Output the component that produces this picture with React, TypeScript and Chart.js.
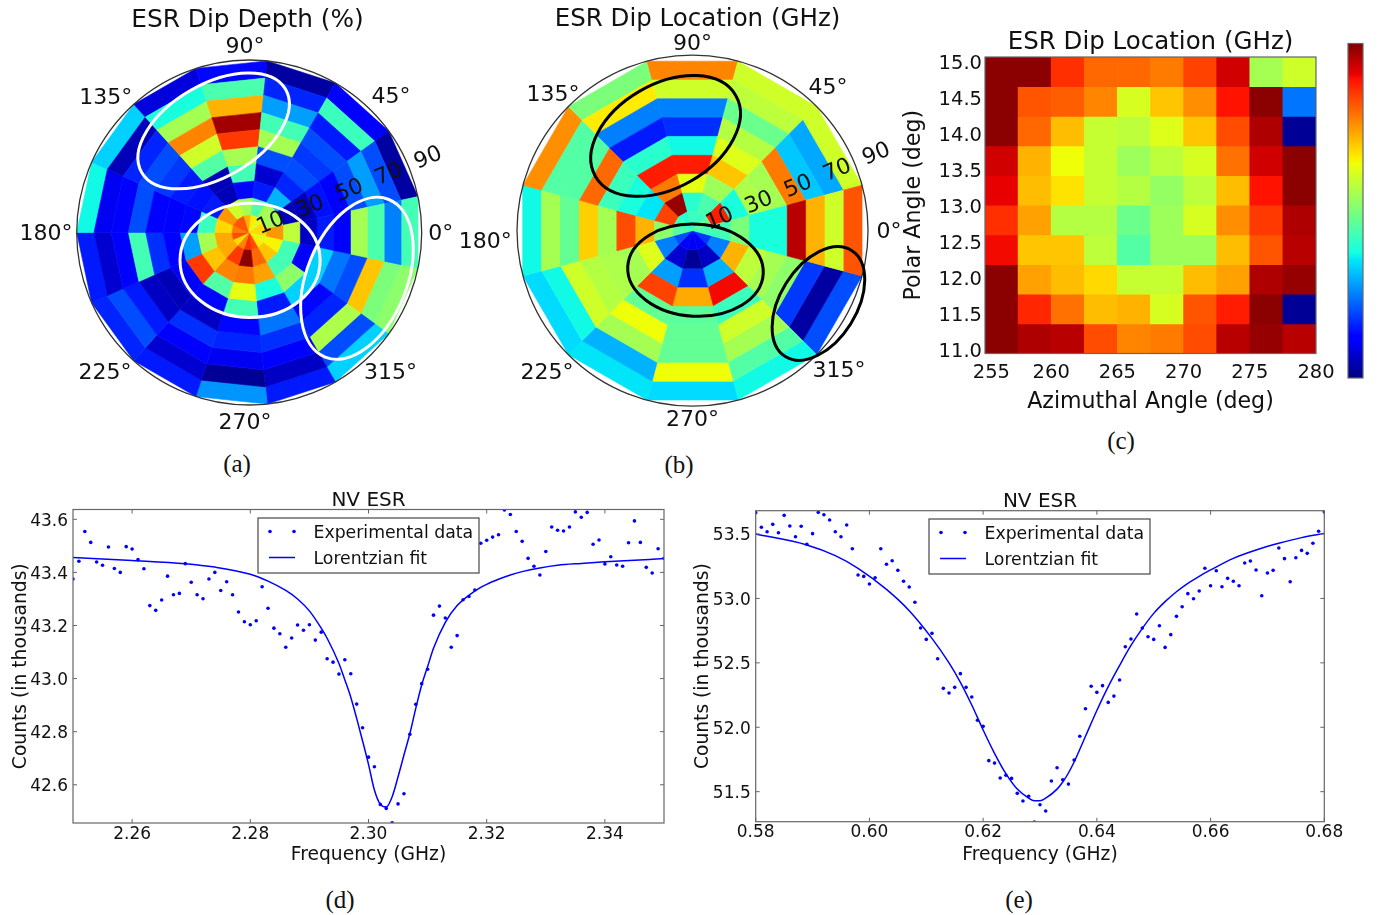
import React, { useEffect, useRef } from "react";
import { Chart, registerables } from "chart.js";

Chart.register(...registerables);

// ---------- panel (a): ESR dip depth, one row per azimuth sector, inner ring first
const depthSectorCenters = [0, 24, 48, 72, 96, 120, 144, 168, 192, 216, 240, 264, 288, 312, 336];
const depthRingEdges = [0, 8.1, 16.2, 24.3, 32.4, 40.5, 48.6, 56.7, 64.8, 72.9, 81];
const depthCells = [
  [0.68, 0.75, 0.58, 0.06, 0.15, 0.11, 0.55, 0.44, 0.25, 0.43],
  [0.68, 0.55, 0.05, 0.05, 0.14, 0.12, 0.2, 0.28, 0.2, 0.03],
  [0.62, 0.55, 0.3, 0.16, 0.2, 0.18, 0.2, 0.15, 0.42, 0.11],
  [0.66, 0.45, 0.15, 0.07, 0.2, 0.55, 0.43, 0.28, 0.16, 0.03],
  [0.72, 0.55, 0.13, 0.43, 0.55, 0.85, 0.97, 0.72, 0.44, 0.13],
  [0.82, 0.6, 0.05, 0.05, 0.45, 0.6, 0.77, 0.55, 0.38, 0.08],
  [0.82, 0.75, 0.15, 0.14, 0.15, 0.18, 0.2, 0.16, 0.05, 0.33],
  [0.78, 0.68, 0.42, 0.13, 0.12, 0.12, 0.2, 0.11, 0.1, 0.37],
  [0.83, 0.73, 0.55, 0.28, 0.12, 0.17, 0.43, 0.11, 0.07, 0.15],
  [0.68, 0.73, 0.7, 0.85, 0.11, 0.05, 0.06, 0.15, 0.2, 0.16],
  [0.77, 0.85, 0.77, 0.45, 0.13, 0.06, 0.17, 0.11, 0.07, 0.15],
  [0.86, 0.99, 0.78, 0.63, 0.43, 0.13, 0.16, 0.1, 0.02, 0.27],
  [0.83, 0.8, 0.74, 0.38, 0.15, 0.24, 0.17, 0.11, 0.06, 0.15],
  [0.66, 0.7, 0.43, 0.52, 0.33, 0.13, 0.16, 0.56, 0.2, 0.33],
  [0.62, 0.65, 0.43, 0.11, 0.33, 0.24, 0.2, 0.7, 0.5, 0.52],
];
const depthEllipses = [
  [-16.7, 47.7, 39, 21.9, 30],
  [0.4, -13.1, 32.9, 26.8, 0],
  [50.6, -21.5, 39.9, 23.5, 68],
];
const depthAngleTexts = ["0°", "45°", "90°", "135°", "180°", "225°", "270°", "315°"];
const depthAngleThetas = [0, 43.9, 91.3, 136.6, 180, 224, 268.7, 315.4];
const depthAngleRadii = [90, 92.4, 87.6, 92.7, 95.4, 94.2, 89, 93.2];

// ---------- panel (b): ESR dip location
const locationSectorCenters = [0, 30, 60, 90, 120, 150, 180, 210, 240, 270, 300, 330];
const locationRingEdges = [0, 9.2, 18.4, 27.6, 36.8, 46, 55.2, 64.4, 73.6, 82.8];
const locationCells = [
  [0.43, 0.43, 0.5, 0.38, 0.38, 0.95, 0.72, 0.6, 0.82],
  [0.47, 0.88, 0.38, 0.56, 0.55, 0.78, 0.32, 0.29, 0.6],
  [0.42, 0.44, 0.54, 0.7, 0.62, 0.57, 0.48, 0.58, 0.6],
  [0.42, 0.4, 0.63, 0.88, 0.37, 0.17, 0.25, 0.6, 0.77],
  [0.4, 0.98, 0.78, 0.88, 0.4, 0.15, 0.25, 0.66, 0.5],
  [0.42, 0.84, 0.35, 0.38, 0.42, 0.8, 0.45, 0.45, 0.76],
  [0.45, 0.52, 0.72, 0.83, 0.55, 0.69, 0.47, 0.55, 0.37],
  [0.2, 0.25, 0.62, 0.55, 0.56, 0.57, 0.6, 0.37, 0.34],
  [0.12, 0.07, 0.28, 0.84, 0.47, 0.64, 0.55, 0.3, 0.35],
  [0.1, 0.02, 0.17, 0.73, 0.46, 0.47, 0.47, 0.64, 0.34],
  [0.12, 0.06, 0.3, 0.9, 0.42, 0.6, 0.55, 0.45, 0.37],
  [0.18, 0.25, 0.72, 0.58, 0.55, 0.52, 0.18, 0.03, 0.2],
];
const locationEllipses = [
  [-12.7, 44.7, 38.2, 24.4, 30],
  [1.4, -18.7, 32, 21.7, -3],
  [59.4, -34.4, 29.5, 18, 58],
];
const locationAngleTexts = ["0°", "45°", "90°", "135°", "180°", "225°", "270°", "315°"];
const locationAngleThetas = [0, 46.7, 90, 135.6, 182.8, 224.2, 270, 316.4];
const locationAngleRadii = [92.7, 93.2, 88.5, 92.1, 97.9, 95.7, 88.8, 95.4];

const radialTicks = [10, 30, 50, 70, 90];

// ---------- panel (c): heat map, top row first
const azimuthTicks = [255.48, 260, 265, 270, 275, 280];
const polarTicks = [11, 11.5, 12, 12.5, 13, 13.5, 14, 14.5, 15];
const azimuthEdges = [255, 257.5, 260, 262.5, 265, 267.5, 270, 272.5, 275, 277.5, 280];
const polarEdges = [15.065, 14.654, 14.242, 13.831, 13.419, 13.008, 12.597, 12.185, 11.774, 11.362, 10.951];
const heatRow1 = [0.99, 0.99, 0.86, 0.8, 0.8, 0.78, 0.84, 0.93, 0.55, 0.6];
const heatRow2 = [0.99, 0.82, 0.81, 0.77, 0.61, 0.7, 0.76, 0.89, 0.99, 0.24];
const heatRow3 = [0.99, 0.8, 0.71, 0.59, 0.58, 0.62, 0.7, 0.83, 0.96, 0.02];
const heatRow4 = [0.93, 0.72, 0.64, 0.59, 0.54, 0.58, 0.61, 0.79, 0.93, 0.99];
const heatRow5 = [0.91, 0.71, 0.67, 0.59, 0.57, 0.53, 0.58, 0.71, 0.89, 0.99];
const heatRow6 = [0.86, 0.74, 0.57, 0.57, 0.48, 0.54, 0.61, 0.76, 0.85, 0.96];
const heatRow7 = [0.9, 0.7, 0.7, 0.58, 0.45, 0.54, 0.54, 0.71, 0.82, 0.95];
const heatRow8 = [0.99, 0.74, 0.71, 0.68, 0.59, 0.59, 0.71, 0.74, 0.96, 0.98];
const heatRow9 = [0.99, 0.87, 0.79, 0.71, 0.72, 0.61, 0.82, 0.88, 0.99, 0.02];
const heatRow10 = [0.99, 0.96, 0.95, 0.83, 0.77, 0.78, 0.83, 0.95, 0.98, 0.95];
const heatRows = [heatRow1, heatRow2, heatRow3, heatRow4, heatRow5, heatRow6, heatRow7, heatRow8, heatRow9, heatRow10];

// ---------- panel (d)
const freqD = [2.25, 2.251, 2.252, 2.253, 2.254, 2.255, 2.256, 2.257, 2.258, 2.259, 2.26, 2.261, 2.262, 2.263, 2.264, 2.265, 2.266, 2.267, 2.268, 2.269, 2.27, 2.271, 2.272, 2.273, 2.274, 2.275, 2.276, 2.277, 2.278, 2.279, 2.28, 2.281, 2.282, 2.283, 2.284, 2.285, 2.286, 2.287, 2.288, 2.289, 2.29, 2.291, 2.292, 2.293, 2.294, 2.295, 2.296, 2.297, 2.298, 2.299, 2.3, 2.301, 2.302, 2.303, 2.304, 2.305, 2.306, 2.307, 2.308, 2.309, 2.31, 2.311, 2.312, 2.313, 2.314, 2.315, 2.316, 2.317, 2.318, 2.319, 2.32, 2.321, 2.322, 2.323, 2.324, 2.325, 2.326, 2.327, 2.328, 2.329, 2.33, 2.331, 2.332, 2.333, 2.334, 2.335, 2.336, 2.337, 2.338, 2.339, 2.34, 2.341, 2.342, 2.343, 2.344, 2.345, 2.346, 2.347, 2.348, 2.349, 2.35];
const countsD = [43.375, 43.442, 43.554, 43.513, 43.439, 43.427, 43.496, 43.415, 43.4, 43.497, 43.488, 43.448, 43.414, 43.275, 43.257, 43.296, 43.386, 43.316, 43.321, 43.433, 43.363, 43.316, 43.301, 43.375, 43.4, 43.332, 43.365, 43.316, 43.251, 43.214, 43.203, 43.218, 43.346, 43.265, 43.19, 43.169, 43.118, 43.153, 43.202, 43.182, 43.203, 43.145, 43.175, 43.075, 43.062, 43.017, 43.071, 43.018, 42.904, 42.815, 42.704, 42.668, 42.526, 42.511, 42.457, 42.528, 42.566, 42.79, 42.903, 42.981, 43.035, 43.239, 43.273, 43.228, 43.118, 43.162, 43.297, 43.309, 43.334, 43.51, 43.521, 43.533, 43.542, 43.635, 43.618, 43.554, 43.517, 43.453, 43.423, 43.39, 43.479, 43.571, 43.559, 43.556, 43.571, 43.628, 43.608, 43.626, 43.506, 43.522, 43.432, 43.459, 43.428, 43.423, 43.512, 43.594, 43.513, 43.419, 43.398, 43.489, 43.453];
const fitFreqD = [2.25, 2.26, 2.269, 2.274, 2.28, 2.283, 2.286, 2.288, 2.29, 2.292, 2.293, 2.295, 2.296, 2.297, 2.298, 2.299, 2.3, 2.301, 2.302, 2.303, 2.304, 2.305, 2.306, 2.307, 2.308, 2.309, 2.31, 2.311, 2.313, 2.315, 2.318, 2.32, 2.322, 2.324, 2.326, 2.329, 2.332, 2.336, 2.34, 2.345, 2.35];
const fitCountsD = [43.456, 43.445, 43.433, 43.42, 43.393, 43.367, 43.332, 43.3, 43.255, 43.19, 43.152, 43.057, 42.995, 42.93, 42.85, 42.765, 42.677, 42.58, 42.526, 42.516, 42.555, 42.63, 42.712, 42.793, 42.888, 42.976, 43.045, 43.114, 43.212, 43.275, 43.33, 43.355, 43.374, 43.39, 43.403, 43.417, 43.427, 43.434, 43.44, 43.446, 43.452];
const xTicksD = [2.26, 2.28, 2.3, 2.32, 2.34];
const yTicksD = [42.6, 42.8, 43.0, 43.2, 43.4, 43.6];

// ---------- panel (e)
const freqE = [0.58, 0.581, 0.582, 0.583, 0.584, 0.585, 0.586, 0.587, 0.588, 0.589, 0.59, 0.591, 0.592, 0.593, 0.594, 0.595, 0.596, 0.597, 0.598, 0.599, 0.6, 0.601, 0.602, 0.603, 0.604, 0.605, 0.606, 0.607, 0.608, 0.609, 0.61, 0.611, 0.612, 0.613, 0.614, 0.615, 0.616, 0.617, 0.618, 0.619, 0.62, 0.621, 0.622, 0.623, 0.624, 0.625, 0.626, 0.627, 0.628, 0.629, 0.63, 0.631, 0.632, 0.633, 0.634, 0.635, 0.636, 0.637, 0.638, 0.639, 0.64, 0.641, 0.642, 0.643, 0.644, 0.645, 0.646, 0.647, 0.648, 0.649, 0.65, 0.651, 0.652, 0.653, 0.654, 0.655, 0.656, 0.657, 0.658, 0.659, 0.66, 0.661, 0.662, 0.663, 0.664, 0.665, 0.666, 0.667, 0.668, 0.669, 0.67, 0.671, 0.672, 0.673, 0.674, 0.675, 0.676, 0.677, 0.678, 0.679, 0.68];
const countsE = [53.666, 53.552, 53.518, 53.575, 53.51, 53.645, 53.562, 53.479, 53.56, 53.42, 53.503, 53.668, 53.65, 53.609, 53.518, 53.479, 53.57, 53.386, 53.182, 53.171, 53.112, 53.161, 53.386, 53.265, 53.293, 53.218, 53.133, 53.089, 52.97, 52.77, 52.682, 52.729, 52.532, 52.302, 52.266, 52.31, 52.416, 52.31, 52.235, 52.054, 52.007, 51.741, 51.722, 51.606, 51.627, 51.603, 51.487, 51.428, 51.464, 51.265, 51.399, 51.35, 51.583, 51.686, 51.593, 51.559, 51.746, 51.93, 52.144, 52.318, 52.271, 52.323, 52.193, 52.242, 52.367, 52.625, 52.685, 52.879, 52.77, 52.703, 52.682, 52.788, 52.62, 52.719, 52.861, 52.936, 53.037, 52.998, 53.058, 53.234, 53.099, 53.215, 53.091, 53.156, 53.133, 53.099, 53.275, 53.29, 53.221, 53.021, 53.197, 53.218, 53.391, 53.309, 53.13, 53.316, 53.373, 53.35, 53.428, 53.521, 53.673];
const fitFreqE = [0.58, 0.589, 0.594, 0.598, 0.603, 0.607, 0.611, 0.614, 0.616, 0.618, 0.62, 0.622, 0.624, 0.626, 0.628, 0.629, 0.63, 0.631, 0.633, 0.634, 0.635, 0.636, 0.638, 0.64, 0.642, 0.644, 0.646, 0.648, 0.65, 0.652, 0.654, 0.656, 0.658, 0.66, 0.664, 0.668, 0.672, 0.676, 0.68];
const fitCountsE = [53.5, 53.415, 53.332, 53.234, 53.07, 52.905, 52.69, 52.5, 52.349, 52.173, 51.979, 51.798, 51.64, 51.52, 51.45, 51.43, 51.43, 51.45, 51.52, 51.575, 51.645, 51.73, 51.93, 52.13, 52.315, 52.48, 52.635, 52.768, 52.884, 52.975, 53.052, 53.117, 53.172, 53.221, 53.311, 53.376, 53.428, 53.472, 53.505];
const xTicksE = [0.58, 0.6, 0.62, 0.64, 0.66, 0.68];
const yTicksE = [51.5, 52.0, 52.5, 53.0, 53.5];

const legendLabels = ["Experimental data", "Lorentzian fit"];
const captions = ["(a)", "(b)", "(c)", "(d)", "(e)"];

// ---------- helpers
const FONT = "'DejaVu Sans'";
const INK = "#111";
const BLUE = "#0000ff";

function jet(v: number): string {
  const seg = (pts: number[][]) => {
    for (let i = 1; i < pts.length; i++) {
      if (v <= pts[i][0]) {
        const [x0, y0] = pts[i - 1];
        const [x1, y1] = pts[i];
        return y0 + ((y1 - y0) * (v - x0)) / (x1 - x0);
      }
    }
    return pts[pts.length - 1][1];
  };
  const r = seg([[0, 0], [0.35, 0], [0.66, 1], [0.89, 1], [1, 0.5]]);
  const g = seg([[0, 0], [0.125, 0], [0.375, 1], [0.64, 1], [0.91, 0], [1, 0]]);
  const b = seg([[0, 0.5], [0.11, 1], [0.34, 1], [0.65, 0], [1, 0]]);
  return `rgb(${Math.round(r * 255)},${Math.round(g * 255)},${Math.round(b * 255)})`;
}

const rad = (d: number) => (d * Math.PI) / 180;

function polarDatasets(cells: number[][], centers: number[], edges: number[]) {
  const half = (centers[1] - centers[0]) / 2;
  const out: any[] = [];
  cells.forEach((rings, s) => {
    const t0 = rad(centers[s] - half);
    const t1 = rad(centers[s] + half);
    rings.forEach((v, j) => {
      const r0 = edges[j];
      const r1 = edges[j + 1];
      const data = [
        { x: r0 * Math.cos(t0), y: r0 * Math.sin(t0) },
        { x: r1 * Math.cos(t0), y: r1 * Math.sin(t0) },
        { x: r1 * Math.cos(t1), y: r1 * Math.sin(t1) },
        { x: r0 * Math.cos(t1), y: r0 * Math.sin(t1) },
        { x: r0 * Math.cos(t0), y: r0 * Math.sin(t0) },
      ];
      const c = jet(v);
      out.push({
        data,
        showLine: true,
        fill: "shape",
        backgroundColor: c,
        borderColor: c,
        borderWidth: 0.6,
        pointRadius: 0,
        tension: 0,
        clip: false,
      });
    });
  });
  return out;
}

function polarOverlay(opts: {
  rmax: number;
  ellipses: number[][];
  ellipseColor: string;
  texts: string[];
  thetas: number[];
  radii: number[];
  radialShift: number;
}) {
  return {
    id: "polarOverlay",
    afterDatasetsDraw(chart: any) {
      const { ctx, scales } = chart;
      const px = (x: number) => scales.x.getPixelForValue(x);
      const py = (y: number) => scales.y.getPixelForValue(y);
      const unit = px(1) - px(0);
      ctx.save();
      ctx.strokeStyle = "#333";
      ctx.lineWidth = 1.3;
      ctx.beginPath();
      ctx.arc(px(0), py(0), opts.rmax * unit, 0, Math.PI * 2);
      ctx.stroke();

      ctx.fillStyle = INK;
      ctx.font = `22px ${FONT}`;
      ctx.textAlign = "center";
      ctx.textBaseline = "middle";
      radialTicks.forEach((r) => {
        const rr = r + opts.radialShift;
        const a = rad(22.5);
        ctx.save();
        ctx.translate(px(rr * Math.cos(a)), py(rr * Math.sin(a)));
        ctx.rotate(-a);
        ctx.fillText(String(r), 0, 0);
        ctx.restore();
      });
      opts.texts.forEach((t, i) => {
        const a = rad(opts.thetas[i]);
        ctx.fillText(t, px(opts.radii[i] * Math.cos(a)), py(opts.radii[i] * Math.sin(a)) + 1.5);
      });

      ctx.strokeStyle = opts.ellipseColor;
      ctx.lineWidth = 3;
      opts.ellipses.forEach(([cx, cy, a, b, phi]) => {
        ctx.beginPath();
        ctx.ellipse(px(cx), py(cy), a * unit, b * unit, -rad(phi), 0, Math.PI * 2);
        ctx.stroke();
      });
      ctx.restore();
    },
  };
}

function polarConfig(
  title: string,
  cells: number[][],
  centers: number[],
  edges: number[],
  pad: any,
  xRange: number[],
  titleSize: number,
  titlePad: any,
  overlay: any
) {
  const rmax = edges[edges.length - 1];
  return {
    type: "scatter",
    data: { datasets: polarDatasets(cells, centers, edges) },
    plugins: [overlay],
    options: {
      animation: false,
      responsive: false,
      layout: { padding: pad },
      plugins: {
        legend: { display: false },
        tooltip: { enabled: false },
        title: {
          display: true,
          text: title,
          color: INK,
          font: { family: FONT, size: titleSize, weight: "normal", lineHeight: 1.2 },
          padding: titlePad,
        },
      },
      scales: {
        x: { type: "linear", display: false, min: xRange[0], max: xRange[1] },
        y: { type: "linear", display: false, min: -rmax, max: rmax },
      },
    },
  };
}

const framePlugin = (inside: boolean) => ({
  id: "frame",
  afterDatasetsDraw(chart: any) {
    const { ctx, chartArea: a, scales } = chart;
    ctx.save();
    ctx.strokeStyle = "#666";
    ctx.lineWidth = 1.2;
    ctx.strokeRect(a.left, a.top, a.right - a.left, a.bottom - a.top);
    if (inside) {
      ctx.lineWidth = 1;
      ctx.beginPath();
      scales.x.ticks.forEach((t: any) => {
        const x = scales.x.getPixelForValue(t.value);
        ctx.moveTo(x, a.top);
        ctx.lineTo(x, a.top + 4);
        ctx.moveTo(x, a.bottom);
        ctx.lineTo(x, a.bottom - 4);
      });
      scales.y.ticks.forEach((t: any) => {
        const y = scales.y.getPixelForValue(t.value);
        ctx.moveTo(a.left, y);
        ctx.lineTo(a.left + 4, y);
        ctx.moveTo(a.right, y);
        ctx.lineTo(a.right - 4, y);
      });
      ctx.stroke();
    }
    ctx.restore();
  },
});

const legendPlugin = (boxLeft: number, boxTop: number) => ({
  id: "boxLegend",
  afterDraw(chart: any) {
    const { ctx } = chart;
    const ds = chart.data.datasets;
    ctx.save();
    ctx.fillStyle = "#fff";
    ctx.strokeStyle = "#555";
    ctx.lineWidth = 1.3;
    ctx.fillRect(boxLeft, boxTop, 221, 55);
    ctx.strokeRect(boxLeft, boxTop, 221, 55);
    ctx.fillStyle = BLUE;
    [12, 36].forEach((dx) => {
      ctx.beginPath();
      ctx.arc(boxLeft + dx, boxTop + 13.5, 1.8, 0, Math.PI * 2);
      ctx.fill();
    });
    ctx.strokeStyle = BLUE;
    ctx.lineWidth = 1.5;
    ctx.beginPath();
    ctx.moveTo(boxLeft + 11, boxTop + 39.5);
    ctx.lineTo(boxLeft + 37, boxTop + 39.5);
    ctx.stroke();
    ctx.fillStyle = INK;
    ctx.font = `17.3px ${FONT}`;
    ctx.textBaseline = "middle";
    ctx.textAlign = "left";
    ctx.fillText(ds[0].label, boxLeft + 55.5, boxTop + 16);
    ctx.fillText(ds[1].label, boxLeft + 55.5, boxTop + 42);
    ctx.restore();
  },
});

function esrConfig(
  xs: number[],
  ys: number[],
  fx: number[],
  fy: number[],
  xTicks: number[],
  yTicks: number[],
  yDigits: number,
  layout: any
) {
  return {
    type: "scatter",
    data: {
      datasets: [
        {
          label: legendLabels[0],
          data: xs.map((x, i) => ({ x, y: ys[i] })),
          backgroundColor: BLUE,
          borderColor: BLUE,
          pointRadius: 1.8,
          pointBorderWidth: 0,
          showLine: false,
        },
        {
          label: legendLabels[1],
          data: fx.map((x, i) => ({ x, y: fy[i] })),
          borderColor: BLUE,
          borderWidth: 1.5,
          pointRadius: 0,
          showLine: true,
          fill: false,
          cubicInterpolationMode: "monotone",
        },
      ],
    },
    plugins: [framePlugin(true), legendPlugin(layout.legendLeft, layout.legendTop)],
    options: {
      animation: false,
      responsive: false,
      layout: { padding: { left: 0, top: 0, right: layout.right, bottom: 0 } },
      plugins: {
        legend: { display: false },
        tooltip: { enabled: false },
        title: {
          display: true,
          text: "NV ESR",
          fullSize: false,
          color: INK,
          font: { family: FONT, size: 20, weight: "normal", lineHeight: 0.9 },
          padding: { top: layout.titleTop, bottom: 0 },
        },
      },
      scales: {
        x: {
          type: "linear",
          min: xs[0],
          max: xs[xs.length - 1],
          grid: { display: false, drawTicks: false },
          border: { display: false },
          afterFit: (s: any) => { s.height = layout.xHeight; },
          afterBuildTicks: (s: any) => { s.ticks = xTicks.map((value) => ({ value })); },
          ticks: {
            autoSkip: false,
            maxRotation: 0,
            padding: 1,
            color: INK,
            font: { family: FONT, size: 17 },
            callback: (v: any) => Number(v).toFixed(2),
          },
          title: {
            display: true,
            text: "Frequency (GHz)",
            color: INK,
            font: { family: FONT, size: 18.7 },
            padding: { top: 0, bottom: 3.6 },
          },
        },
        y: {
          type: "linear",
          min: layout.yMin,
          max: layout.yMax,
          grid: { display: false, drawTicks: false },
          border: { display: false },
          afterFit: (s: any) => { s.width = layout.yWidth; },
          afterBuildTicks: (s: any) => { s.ticks = yTicks.map((value) => ({ value })); },
          ticks: {
            autoSkip: false,
            padding: 5,
            labelOffset: 2,
            color: INK,
            font: { family: FONT, size: 17 },
            callback: (v: any) => Number(v).toFixed(yDigits),
          },
          title: {
            display: true,
            text: "Counts (in thousands)",
            color: INK,
            font: { family: FONT, size: 18.7 },
            padding: { top: layout.yTitlePad, bottom: 0 },
          },
        },
      },
    },
  };
}

function heatConfig() {
  const centers = azimuthEdges.slice(0, -1).map((e, i) => (e + azimuthEdges[i + 1]) / 2);
  return {
    type: "bar",
    data: {
      datasets: heatRows.map((row, r) => ({
        data: row.map((_, c) => ({ x: centers[c], y: [polarEdges[r + 1], polarEdges[r]] })),
        backgroundColor: row.map(jet),
        borderWidth: 0,
        grouped: false,
        barPercentage: 1,
        categoryPercentage: 1,
      })),
    },
    plugins: [framePlugin(false)],
    options: {
      animation: false,
      responsive: false,
      layout: { padding: { right: 29 } },
      plugins: {
        legend: { display: false },
        tooltip: { enabled: false },
        title: {
          display: true,
          text: "ESR Dip Location (GHz)",
          fullSize: false,
          color: INK,
          font: { family: FONT, size: 24.5, weight: "normal", lineHeight: 1 },
          padding: { top: 10.75, bottom: 1.75 },
        },
      },
      scales: {
        x: {
          type: "linear",
          offset: false,
          min: 255,
          max: 280,
          grid: { display: false, drawTicks: false },
          border: { display: false },
          afterFit: (s: any) => { s.height = 66.5; },
          afterBuildTicks: (s: any) => { s.ticks = azimuthTicks.map((value) => ({ value })); },
          ticks: {
            autoSkip: false,
            maxRotation: 0,
            padding: 8,
            color: INK,
            font: { family: FONT, size: 19.5 },
            callback: (v: any) => String(Math.round(Number(v))),
          },
          title: {
            display: true,
            text: "Azimuthal Angle (deg)",
            color: INK,
            font: { family: FONT, size: 22.1 },
            padding: { top: 0, bottom: 4 },
          },
        },
        y: {
          type: "linear",
          min: polarEdges[polarEdges.length - 1],
          max: polarEdges[0],
          grid: { display: false, drawTicks: false },
          border: { display: false },
          afterFit: (s: any) => { s.width = 90; },
          afterBuildTicks: (s: any) => { s.ticks = polarTicks.map((value) => ({ value })); },
          ticks: {
            autoSkip: false,
            padding: 3,
            labelOffset: 2,
            color: INK,
            font: { family: FONT, size: 19.5 },
            callback: (v: any) => Number(v).toFixed(1),
          },
          title: {
            display: true,
            text: "Polar Angle (deg)",
            color: INK,
            font: { family: FONT, size: 22.1 },
            padding: { top: 5.7, bottom: 0 },
          },
        },
      },
    },
  };
}

const colorbarRange = [0, 1];
const colorbarStops = [0, 0.11, 0.125, 0.34, 0.35, 0.375, 0.64, 0.65, 0.66, 0.89, 0.91, 1];

function colorbarConfig() {
  return {
    type: "bar",
    data: {
      labels: [""],
      datasets: [
        {
          data: [colorbarRange],
          borderWidth: 0,
          barPercentage: 1,
          categoryPercentage: 1,
          backgroundColor: (c: any) => {
            const a = c.chart.chartArea;
            if (!a) return "#000";
            const g = c.chart.ctx.createLinearGradient(0, a.bottom, 0, a.top);
            colorbarStops.forEach((s) => g.addColorStop(s, jet(s)));
            return g;
          },
        },
      ],
    },
    plugins: [framePlugin(false)],
    options: {
      animation: false,
      responsive: false,
      layout: { padding: { left: 8, right: 7, top: 8.5, bottom: 7 } },
      plugins: { legend: { display: false }, tooltip: { enabled: false } },
      scales: {
        x: { display: false, offset: true },
        y: { display: false, min: 0, max: 1 },
      },
    },
  };
}

function Panel({ left, top, width, height, config }: any) {
  const ref = useRef<HTMLCanvasElement>(null);
  useEffect(() => {
    const chart = new Chart(ref.current as any, config());
    return () => chart.destroy();
  }, []);
  return <canvas ref={ref} width={width} height={height} style={{ position: "absolute", left, top, width, height }} />;
}

function Caption({ x, y, text }: any) {
  return (
    <div
      style={{
        position: "absolute",
        left: x - 30,
        top: y - 14,
        width: 60,
        height: 28,
        lineHeight: "28px",
        textAlign: "center",
        fontFamily: "'Liberation Serif'",
        fontSize: 25,
        color: INK,
      }}
    >
      {text}
    </div>
  );
}

export default function App() {
  const depth = () =>
    polarConfig(
      "ESR Dip Depth (%)",
      depthCells,
      depthSectorCenters,
      depthRingEdges,
      { left: 73.3, right: 73.3, top: 0, bottom: 25 },
      [-82.6, 81],
      24.8,
      { top: 6.1, bottom: 24.1 },
      polarOverlay({
        rmax: 81,
        ellipses: depthEllipses,
        ellipseColor: "#fff",
        texts: depthAngleTexts,
        thetas: depthAngleThetas,
        radii: depthAngleRadii,
        radialShift: 1,
      })
    );
  const location = () =>
    polarConfig(
      "ESR Dip Location (GHz)",
      locationCells,
      locationSectorCenters,
      locationRingEdges,
      { left: 67, right: 67, top: 0, bottom: 24 },
      [-82.8, 87.5],
      24.5,
      { top: 5.3, bottom: 20.5 },
      polarOverlay({
        rmax: 82.8,
        ellipses: locationEllipses,
        ellipseColor: "#000",
        texts: locationAngleTexts,
        thetas: locationAngleThetas,
        radii: locationAngleRadii,
        radialShift: 4,
      })
    );
  const d = () =>
    esrConfig(freqD, countsD, fitFreqD, fitCountsD, xTicksD, yTicksD, 1, {
      right: 16,
      xHeight: 47,
      yWidth: 73,
      yMin: 42.456,
      yMax: 43.637,
      titleTop: 7.5,
      yTitlePad: 10,
      legendLeft: 258,
      legendTop: 34,
    });
  const e = () =>
    esrConfig(freqE, countsE, fitFreqE, fitCountsE, xTicksE, yTicksE, 1, {
      right: 40.7,
      xHeight: 48.3,
      yWidth: 70.7,
      yMin: 51.267,
      yMax: 53.681,
      titleTop: 8.7,
      yTitlePad: 7.3,
      legendLeft: 244,
      legendTop: 35,
    });

  return (
    <div style={{ position: "absolute", left: 0, top: 0, width: 1379, height: 915, overflow: "hidden", background: "#fff" }}>
      <Panel left={0} top={0} width={495} height={430} config={depth} />
      <Panel left={450} top={0} width={495} height={430} config={location} />
      <Panel left={895} top={20} width={450} height={400} config={heatConfig} />
      <Panel left={1340} top={35} width={30} height={350} config={colorbarConfig} />
      <Panel left={0} top={484} width={680} height={386} config={d} />
      <Panel left={685} top={484} width={680} height={386} config={e} />
      <Caption x={237} y={464} text={captions[0]} />
      <Caption x={679} y={465} text={captions[1]} />
      <Caption x={1121} y={441} text={captions[2]} />
      <Caption x={340} y={900} text={captions[3]} />
      <Caption x={1019} y={900} text={captions[4]} />
    </div>
  );
}
